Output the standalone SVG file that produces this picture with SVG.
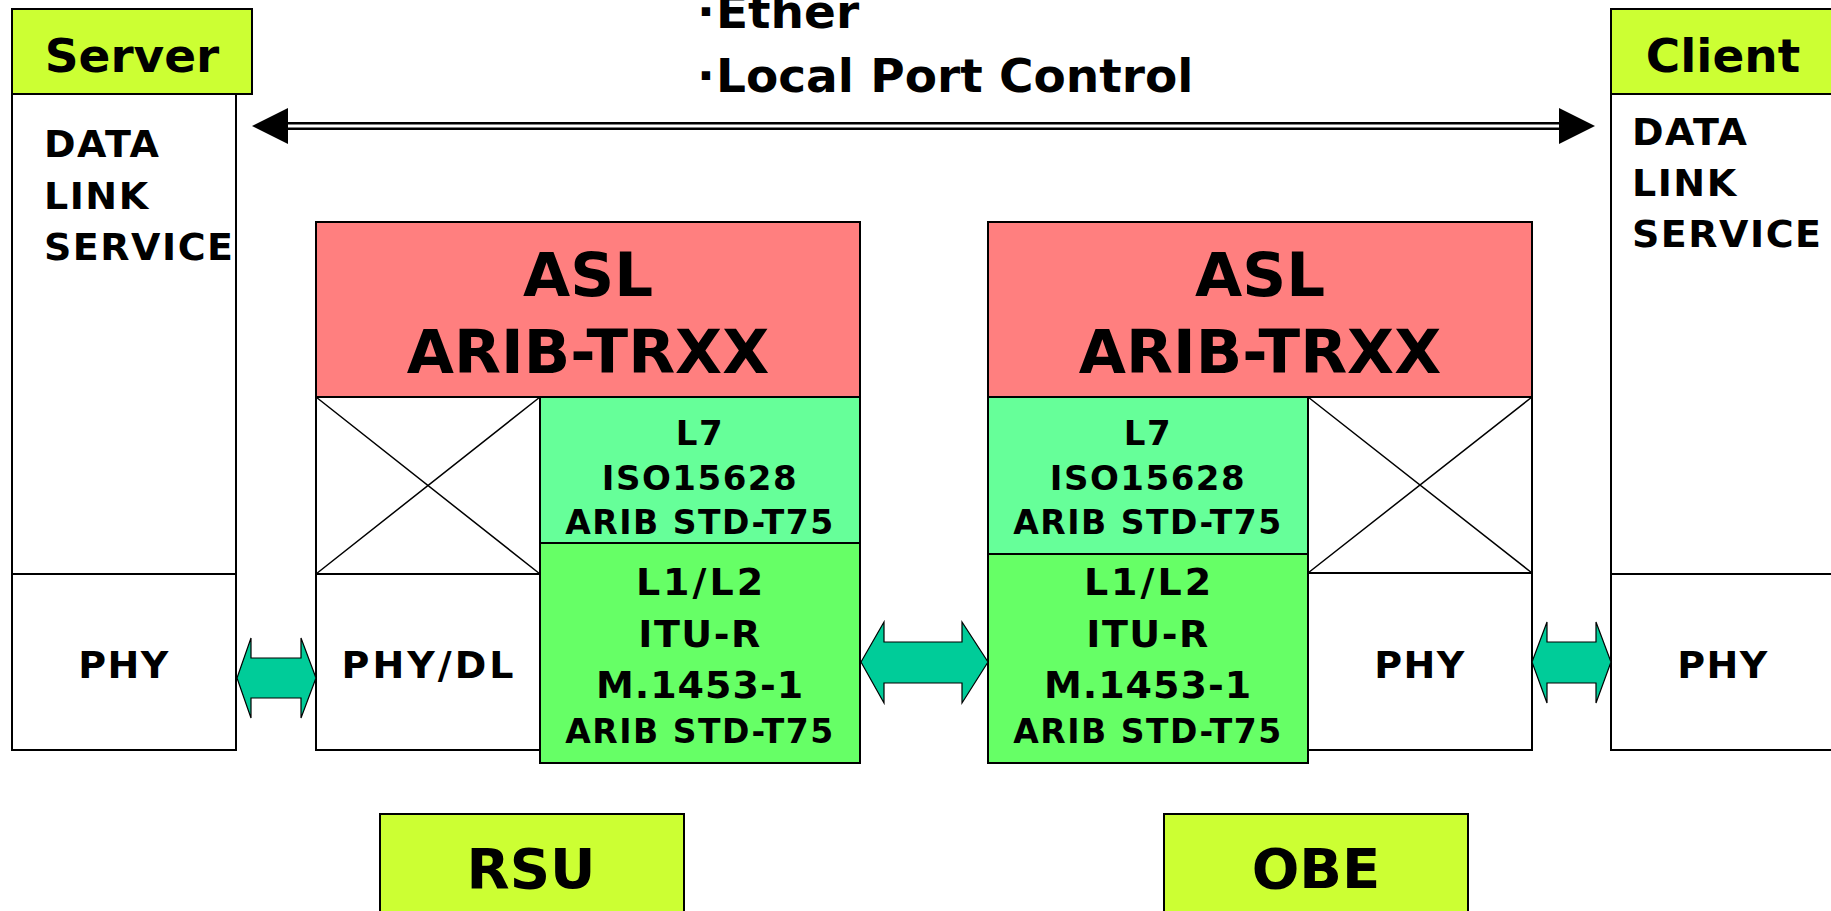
<svg xmlns="http://www.w3.org/2000/svg" width="1831" height="911" viewBox="0 0 1831 911">
<defs>
<style>
.t{font-family:"DejaVu Sans","Verdana",sans-serif;font-weight:bold;fill:#000}
.s{letter-spacing:1.5px}
.ws{letter-spacing:3px}
.box{stroke:#000;stroke-width:2}
.w{fill:#fff}
.hdr{fill:#CCFF33}
.asl{fill:#FF7F7F}
.l7{fill:#66FF99}
.l12{fill:#66FF66}
.x{stroke:#000;stroke-width:1.5;fill:none}
.dbl{fill:#00CC99;stroke:#000;stroke-width:1.2}
.c{text-anchor:middle}
</style>
</defs>
<rect width="1831" height="911" fill="#fff"/>

<g id="server">
<rect class="box hdr" x="12" y="9" width="240" height="85"/>
<rect class="box w" x="12" y="94" width="224" height="480"/>
<rect class="box w" x="12" y="574" width="224" height="176"/>
<text class="t c" x="132" y="72" font-size="47">Server</text>
<text class="t s" x="44" y="157" font-size="38">DATA</text>
<text class="t s" x="44" y="209" font-size="38">LINK</text>
<text class="t s" x="44" y="260" font-size="38">SERVICE</text>
<text class="t c s" x="124" y="678" font-size="38">PHY</text>
</g>

<g id="client">
<rect class="box hdr" x="1611" y="9" width="240" height="85"/>
<rect class="box w" x="1611" y="94" width="224" height="480"/>
<rect class="box w" x="1611" y="574" width="224" height="176"/>
<text class="t c" x="1723" y="72" font-size="47">Client</text>
<text class="t s" x="1632" y="145" font-size="38">DATA</text>
<text class="t s" x="1632" y="196" font-size="38">LINK</text>
<text class="t s" x="1632" y="247" font-size="38">SERVICE</text>
<text class="t c s" x="1723" y="678" font-size="38">PHY</text>
</g>

<g id="rsu">
<rect class="box asl" x="316" y="222" width="544" height="175"/>
<text class="t c" x="588" y="296" font-size="61">ASL</text>
<text class="t c" x="588" y="373" font-size="61">ARIB-TRXX</text>
<rect class="box w" x="316" y="397" width="224" height="177"/>
<path class="x" d="M316 397 L540 574 M540 397 L316 574"/>
<rect class="box w" x="316" y="574" width="224" height="176"/>
<text class="t c ws" x="429" y="678" font-size="38">PHY/DL</text>
<rect class="box l7" x="540" y="397" width="320" height="146"/>
<text class="t c s" x="700" y="445" font-size="34">L7</text>
<text class="t c s" x="700" y="490" font-size="34">ISO15628</text>
<text class="t c s" x="700" y="534" font-size="33">ARIB STD-T75</text>
<rect class="box l12" x="540" y="543" width="320" height="220"/>
<text class="t c ws" x="701" y="595" font-size="38">L1/L2</text>
<text class="t c s" x="700" y="647" font-size="38">ITU-R</text>
<text class="t c" x="700" y="698" font-size="38" letter-spacing="1">M.1453-1</text>
<text class="t c s" x="700" y="743" font-size="33">ARIB STD-T75</text>
</g>

<g id="obe">
<rect class="box asl" x="988" y="222" width="544" height="175"/>
<text class="t c" x="1260" y="296" font-size="61">ASL</text>
<text class="t c" x="1260" y="373" font-size="61">ARIB-TRXX</text>
<rect class="box l7" x="988" y="397" width="320" height="157"/>
<text class="t c s" x="1148" y="445" font-size="34">L7</text>
<text class="t c s" x="1148" y="490" font-size="34">ISO15628</text>
<text class="t c s" x="1148" y="534" font-size="33">ARIB STD-T75</text>
<rect class="box l12" x="988" y="554" width="320" height="209"/>
<text class="t c ws" x="1149" y="595" font-size="38">L1/L2</text>
<text class="t c s" x="1148" y="647" font-size="38">ITU-R</text>
<text class="t c" x="1148" y="698" font-size="38" letter-spacing="1">M.1453-1</text>
<text class="t c s" x="1148" y="743" font-size="33">ARIB STD-T75</text>
<rect class="box w" x="1308" y="397" width="224" height="176"/>
<path class="x" d="M1308 397 L1532 573 M1532 397 L1308 573"/>
<rect class="box w" x="1308" y="573" width="224" height="177"/>
<text class="t c s" x="1420" y="678" font-size="38">PHY</text>
</g>

<g id="rsu-label">
<rect class="box hdr" x="380" y="814" width="304" height="110"/>
<text class="t c" x="531" y="888" font-size="56">RSU</text>
</g>

<g id="obe-label">
<rect class="box hdr" x="1164" y="814" width="304" height="110"/>
<text class="t c" x="1316" y="888" font-size="56">OBE</text>
</g>

<g id="note">
<text class="t" x="697" y="28" font-size="47">·<tspan x="716">Ether</tspan></text>
<text class="t" x="697" y="92" font-size="47">·<tspan x="716">Local Port Control</tspan></text>
</g>

<g id="connectors">
<line x1="285" y1="126" x2="1562" y2="126" stroke="#000" stroke-width="8"/>
<line x1="285" y1="126" x2="1562" y2="126" stroke="#fff" stroke-width="3"/>
<polygon points="252,126 288,108 288,144" fill="#000"/>
<polygon points="1595,126 1559,108 1559,144" fill="#000"/>
<polygon class="dbl" points="237,678 251,638 251,658 301,658 301,638 316,678 301,718 301,698 251,698 251,718"/>
<polygon class="dbl" points="861,662 884,622 884,642 962,642 962,622 988,662 962,703 962,683 884,683 884,703"/>
<polygon class="dbl" points="1532,662 1547,622 1547,642 1596,642 1596,622 1611,662 1596,703 1596,683 1547,683 1547,703"/>
</g>
</svg>
